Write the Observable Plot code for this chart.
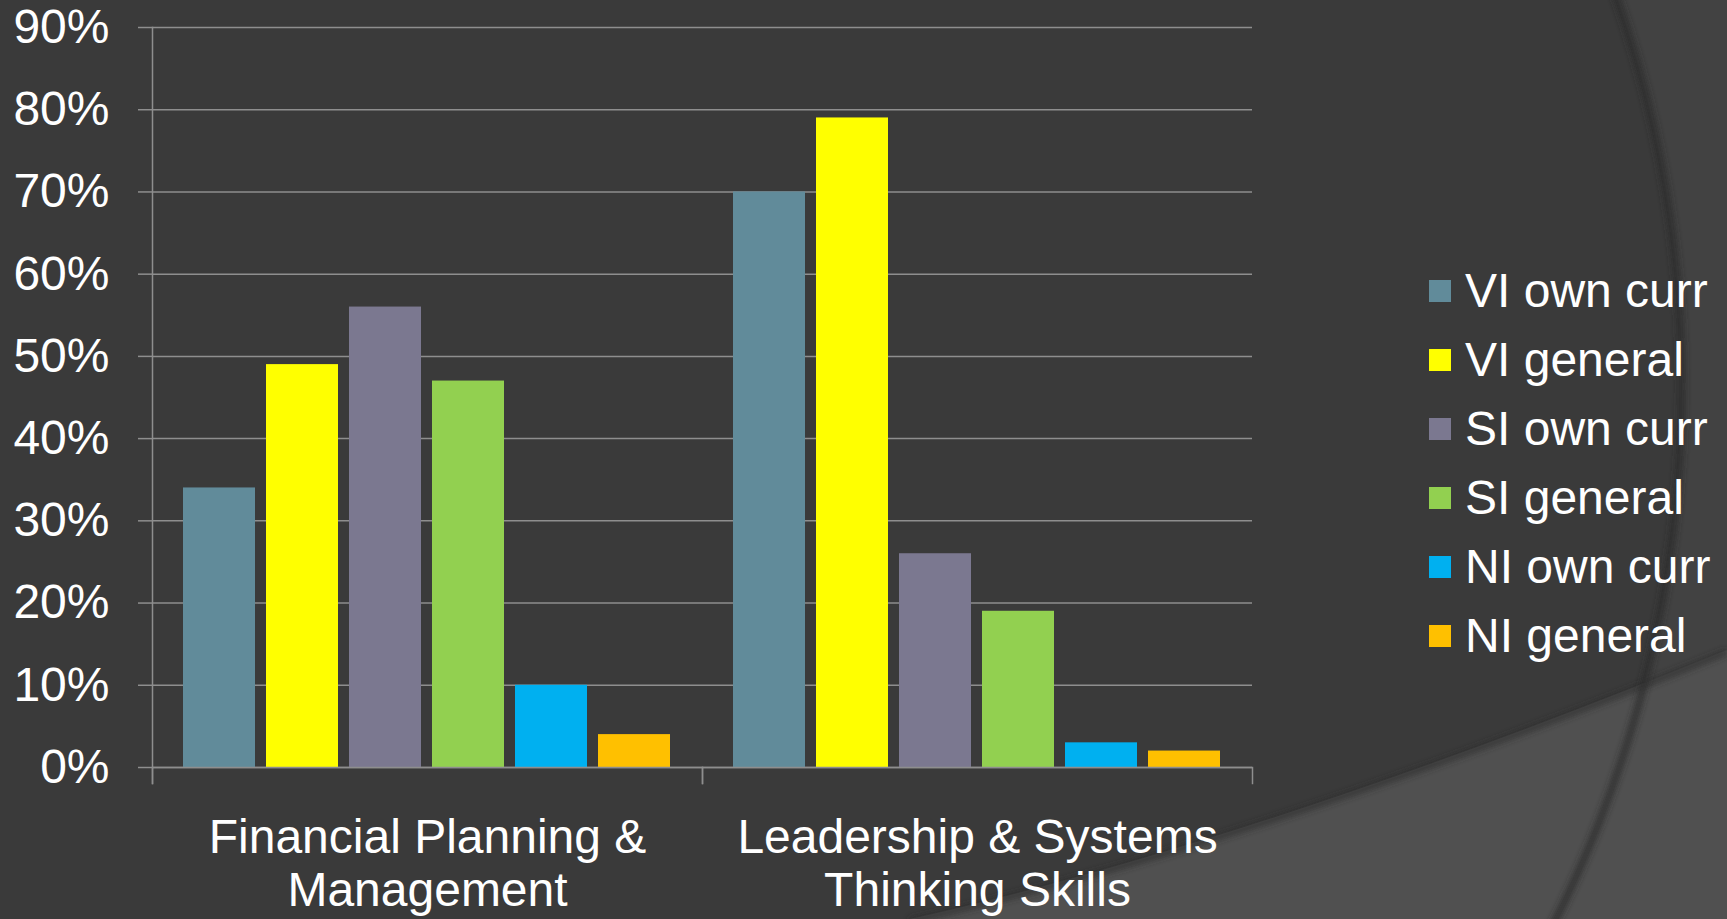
<!DOCTYPE html>
<html>
<head>
<meta charset="utf-8">
<script src="https://cdn.jsdelivr.net/npm/d3@7"></script>
<script src="https://cdn.jsdelivr.net/npm/@observablehq/plot@0.6"></script>
<style>
  html, body { margin: 0; padding: 0; width: 1727px; height: 919px; overflow: hidden; background: #3a3a3a; }
  #bg { position: absolute; left: 0; top: 0; }
  #chart { position: absolute; left: 0; top: 0; }
  #legend { position: absolute; left: 1429px; top: 256px; font-family: "Liberation Sans", Arial, sans-serif; font-size: 48px; color: #fff; }
  .item { display: flex; align-items: center; height: 69px; white-space: nowrap; }
  .sw { width: 22px; height: 22px; margin-right: 14px; flex: none; }
</style>
</head>
<body>
<svg id="bg" width="1727" height="919" xmlns="http://www.w3.org/2000/svg">
  <defs>
    <filter id="blur" x="-5%" y="-5%" width="110%" height="110%"><feGaussianBlur stdDeviation="3"/></filter>
    <clipPath id="clipAll"><rect width="1727" height="919"/></clipPath>
  </defs>
  <g clip-path="url(#clipAll)">
    <rect width="1727" height="919" fill="#424242"/>
    <circle cx="492" cy="386" r="1190" fill="#3a3a3a"/>
    <path d="M910,919 Q1255,842 1727,650 L1727,919 Z" fill="#505050"/>
    <path d="M910,921 Q1255,844 1727,652" fill="none" stroke="#2c2c2c" stroke-width="5" filter="url(#blur)" opacity="0.8"/>
    <circle cx="492" cy="386" r="1190" fill="none" stroke="#2a2a2a" stroke-width="6" filter="url(#blur)" opacity="0.9"/>
  </g>
</svg>
<div id="chart"></div>
<div id="legend"></div>
<script>
const categories = ["Financial Planning & Management", "Leadership & Systems Thinking Skills"];
const categoryLabels = ["Financial Planning &\nManagement", "Leadership & Systems\nThinking Skills"];
const series = ["VI own curr", "VI general", "SI own curr", "SI general", "NI own curr", "NI general"];
const financialValues = [0.34, 0.49, 0.56, 0.47, 0.10, 0.04];
const leadershipValues = [0.70, 0.79, 0.26, 0.19, 0.03, 0.02];
const seriesColors = ["#618B9A", "#FFFF00", "#7B7890", "#92D050", "#00B0F0", "#FFC000"];
const yTicks = [0, 0.1, 0.2, 0.3, 0.4, 0.5, 0.6, 0.7, 0.8, 0.9];

const valuesByCategory = [financialValues, leadershipValues];
const rows = categories.flatMap((c, ci) => series.map((s, si) => ({category: c, series: s, value: valuesByCategory[ci][si]})));
const labelOf = new Map(categories.map((c, i) => [c, categoryLabels[i]]));

const gridColor = "#8e8e8e";
const W = 1727, H = 919;
const mTop = 27, mBottom = 152, mLeft = 152, mRight = 475;

const chart = Plot.plot({
  width: W,
  height: H,
  marginTop: mTop,
  marginBottom: mBottom,
  marginLeft: mLeft,
  marginRight: mRight,
  style: {background: "transparent", color: "#ffffff", fontFamily: "'Liberation Sans', Arial, sans-serif", fontSize: "48px", overflow: "visible"},
  fx: {domain: categories, padding: 0},
  x: {domain: series, paddingInner: 0.1316, paddingOuter: 0.355, axis: null},
  y: {domain: [0, 0.9], axis: null},
  color: {domain: series, range: seriesColors},
  marks: [
    Plot.gridY(yTicks, {stroke: gridColor, strokeOpacity: 1, strokeWidth: 1.5}),
    Plot.axisY(yTicks, {tickFormat: d3.format(".0%"), tickSize: 14, tickPadding: 29, stroke: gridColor, strokeWidth: 1.5, strokeOpacity: 1, fontSize: 48, fill: "#ffffff", label: null}),
    Plot.frame({anchor: "left", insetTop: H - mTop - mBottom, insetBottom: -16, stroke: gridColor, strokeWidth: 1.5, strokeOpacity: 1}),
    Plot.frame({anchor: "right", insetTop: H - mTop - mBottom, insetBottom: -16, stroke: gridColor, strokeWidth: 1.5, strokeOpacity: 1}),
    Plot.frame({anchor: "left", fx: [categories[0]], insetBottom: -16, stroke: gridColor, strokeWidth: 1.5, strokeOpacity: 1}),
    Plot.barY(rows, {fx: "category", x: "series", y: "value", fill: "series"}),
    Plot.ruleY([0], {stroke: gridColor, strokeWidth: 1.5}),
    Plot.axisFx({anchor: "bottom", tickSize: 0, tickPadding: 48, tickFormat: d => labelOf.get(d), fontSize: 48, lineHeight: 1.1, fill: "#ffffff", label: null})
  ]
});
document.getElementById("chart").appendChild(chart);

const legend = document.getElementById("legend");
series.forEach((s, i) => {
  const item = document.createElement("div");
  item.className = "item";
  const sw = document.createElement("span");
  sw.className = "sw";
  sw.style.background = seriesColors[i];
  const t = document.createElement("span");
  t.textContent = s;
  item.appendChild(sw);
  item.appendChild(t);
  legend.appendChild(item);
});
</script>
</body>
</html>
